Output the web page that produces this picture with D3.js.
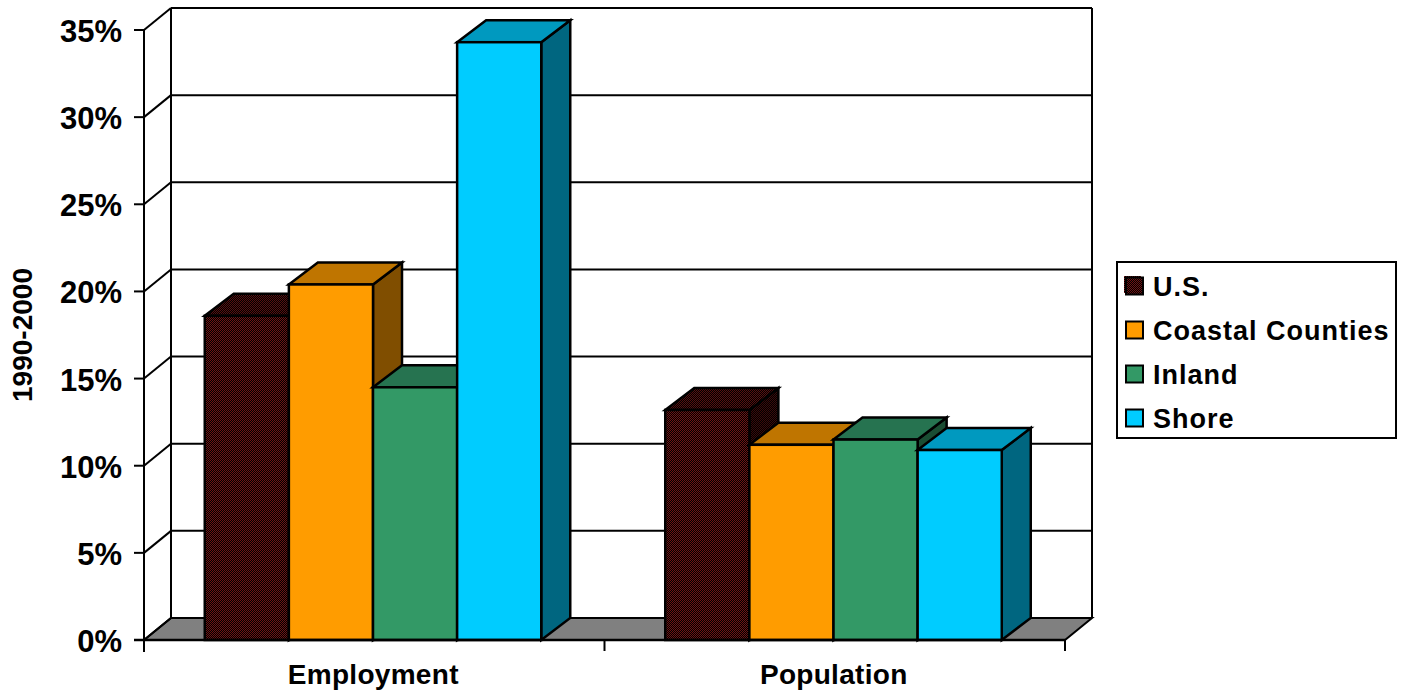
<!DOCTYPE html>
<html><head><meta charset="utf-8">
<script src="https://cdn.jsdelivr.net/npm/d3@7"></script>
<style>html,body{margin:0;padding:0;background:#fff}svg{display:block}text{font-family:"Liberation Sans",Arial,sans-serif;font-weight:bold;fill:#000}</style>
</head><body><svg id="c" width="1405" height="690"></svg>
<script>
const categories = ["Employment","Population"];
const seriesNames = ["U.S.","Coastal Counties","Inland","Shore"];
const usValues = [18.6,13.2];
const coastalValues = [20.4,11.2];
const inlandValues = [14.5,11.5];
const shoreValues = [34.3,10.9];
const yTicks = [0,5,10,15,20,25,30,35];
const fronts = ["url(#usF)","#ff9c00","#339966","#00ccff"];
const tops = ["url(#usT)","#bf7500","#267350","#0099bf"];
const sides = ["url(#usS)","#804e00","#1a4d33","#006680"];
const series = [usValues,coastalValues,inlandValues,shoreValues];

const svg = d3.select("#c");
const defs = svg.append("defs");
function dither(id,c){
  const p = defs.append("pattern").attr("id",id).attr("width",2).attr("height",2).attr("patternUnits","userSpaceOnUse");
  p.append("rect").attr("width",2).attr("height",2).attr("fill","#000");
  p.append("rect").attr("width",1).attr("height",1).attr("fill",c);
  p.append("rect").attr("x",1).attr("y",1).attr("width",1).attr("height",1).attr("fill",c);
}
dither("usF","#701414");dither("usT","#581010");dither("usS","#3c0a0a");

const y = d3.scaleLinear().domain([0,35]).range([640,30]);
const x0 = d3.scaleBand().domain(categories).range([144,1065]);
const x1 = d3.scaleBand().domain(seriesNames).range([60.75,397.25]);
const dx = 27, dy = -22, bx = 29;
const poly = pts => pts.map(p=>p.join(",")).join(" ");
const stroke = (s,w)=>s.attr("stroke","#000").attr("stroke-width",w).attr("stroke-linejoin","miter");

// floor
stroke(svg.append("polygon").attr("fill","#808080").attr("points",poly([[144,y(0)],[144+dx,y(0)+dy],[1065+dx,y(0)+dy],[1065,y(0)]])),2);

// gridlines
yTicks.forEach(t=>{
  const yy=y(t);
  if(t>0) svg.append("line").attr("x1",171).attr("x2",1092).attr("y1",yy+dy).attr("y2",yy+dy).attr("stroke","#000").attr("stroke-width",2);
  svg.append("line").attr("x1",144).attr("x2",171).attr("y1",yy).attr("y2",yy+dy).attr("stroke","#000").attr("stroke-width",2);
  svg.append("line").attr("x1",134).attr("x2",144).attr("y1",yy).attr("y2",yy).attr("stroke","#000").attr("stroke-width",2);
  svg.append("text").attr("x",122).attr("y",yy+12).attr("text-anchor","end").attr("font-size",31).text(t+"%");
});
// walls
[[171,y(35)+dy,171,y(0)+dy],[1092,y(35)+dy,1092,y(0)+dy],[144,y(35),144,652]].forEach(l=>
  svg.append("line").attr("x1",l[0]).attr("y1",l[1]).attr("x2",l[2]).attr("y2",l[3]).attr("stroke","#000").attr("stroke-width",2));

// bars
categories.forEach((c,ci)=>{
  seriesNames.forEach((s,si)=>{
    const l=x0(c)+x1(s), r=l+x1.bandwidth(), t=y(series[si][ci]), b=y(0);
    stroke(svg.append("polygon").attr("fill",sides[si]).attr("points",poly([[r,t],[r+bx,t+dy],[r+bx,b+dy],[r,b]])),2.5);
    stroke(svg.append("polygon").attr("fill",tops[si]).attr("points",poly([[l,t],[l+bx,t+dy],[r+bx,t+dy],[r,t]])),2.5);
    stroke(svg.append("rect").attr("x",l).attr("y",t).attr("width",r-l).attr("height",b-t).attr("fill",fronts[si]),2.5);
  });
});

// x axis
svg.append("line").attr("x1",134).attr("x2",1065).attr("y1",640).attr("y2",640).attr("stroke","#000").attr("stroke-width",2.5);
[0,1,2].forEach(i=>{
  const xx=144+i*x0.bandwidth();
  svg.append("line").attr("x1",xx).attr("x2",xx).attr("y1",640).attr("y2",651).attr("stroke","#000").attr("stroke-width",2);
});
categories.forEach(c=>{
  svg.append("text").attr("x",x0(c)+x0.bandwidth()/2-1).attr("y",684).attr("text-anchor","middle").attr("font-size",28).style("letter-spacing","0.3px").text(c);
});
svg.append("text").attr("transform","translate(32,335) rotate(-90)").attr("text-anchor","middle").attr("font-size",28).text("1990-2000");

// legend
svg.append("rect").attr("x",1117).attr("y",262).attr("width",279).attr("height",176).attr("fill","#fff").attr("stroke","#000").attr("stroke-width",2);
seriesNames.forEach((s,i)=>{
  const yy=d3.scaleLinear().domain([0,3]).range([286,418])(i);
  if(i===0) svg.append("rect").attr("x",1124).attr("y",yy-10).attr("width",17).attr("height",17).attr("fill",fronts[i]);
  svg.append("rect").attr("x",1126).attr("y",yy-8.5).attr("width",17).attr("height",17).attr("fill",fronts[i]).attr("stroke","#000").attr("stroke-width",2);
  svg.append("text").attr("x",1153).attr("y",yy+9.5).attr("font-size",27).style("letter-spacing","1px").text(s);
});
</script></body></html>
